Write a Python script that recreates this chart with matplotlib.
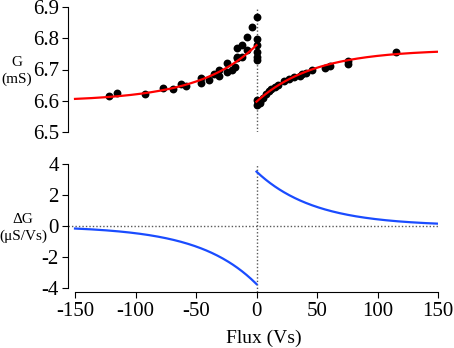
import numpy as np
import matplotlib
matplotlib.use("Agg")
import matplotlib.pyplot as plt

plt.rcParams['font.family'] = ['Liberation Serif', 'DejaVu Serif']
plt.rcParams['axes.unicode_minus'] = False

# measured conductance, negative flux side
flux_neg = [-122, -115, -92, -77, -69, -62, -58, -46, -46, -39, -35, -31, -31, -24, -24,
            -20, -18, -16, -16, -16, -12, -12, -8, -8, -4, 0, 0, 0, 0, 0, 0]
g_neg = [6.615, 6.626, 6.623, 6.640, 6.637, 6.654, 6.648, 6.673, 6.656, 6.666, 6.686,
         6.698, 6.680, 6.720, 6.693, 6.700, 6.709, 6.737, 6.741, 6.769, 6.741, 6.778,
         6.762, 6.805, 6.837, 6.869, 6.798, 6.778, 6.757, 6.741, 6.730]

# measured conductance, positive flux side
flux_pos = [0, 0, 1, 2.5, 3, 5, 8, 10, 12, 15, 18, 23, 27, 31, 36, 38, 41, 46, 57, 61, 76, 76, 115]
g_pos = [6.602, 6.586, 6.594, 6.593, 6.600, 6.609, 6.622, 6.630, 6.638, 6.645, 6.650,
         6.663, 6.670, 6.676, 6.679, 6.686, 6.690, 6.698, 6.705, 6.711, 6.727, 6.718, 6.756]

# exponential fits: G = g_inf + amp * exp(-|flux| / tau)  (mS, Vs)
fit_neg = dict(g_inf=6.598, amp=0.180, tau=48.0)
fit_pos = dict(g_inf=6.764, amp=-0.167, tau=47.6)

x_neg = np.linspace(-150, 0, 200)
x_pos = np.linspace(0, 150, 200)
fit_g_neg = fit_neg['g_inf'] + fit_neg['amp'] * np.exp(x_neg / fit_neg['tau'])
fit_g_pos = fit_pos['g_inf'] + fit_pos['amp'] * np.exp(-x_pos / fit_pos['tau'])
# slope dG/d|flux| in uS/Vs
dg_neg = -1000 * fit_neg['amp'] / fit_neg['tau'] * np.exp(x_neg / fit_neg['tau'])
dg_pos = -1000 * fit_pos['amp'] / fit_pos['tau'] * np.exp(-x_pos / fit_pos['tau'])

W, H = 454, 348
fig = plt.figure(figsize=(W / 100, H / 100), dpi=100)
ax1 = fig.add_axes([68 / W, (H - 132) / H, 370 / W, 125 / H])
ax2 = fig.add_axes([68 / W, (H - 292) / H, 370 / W, 128 / H])

xlim = (-155.8, 150)
dot = dict(color='0.35', lw=1.0, ls=(0, (1, 1.5)), zorder=1)

# top panel
ax1.axvline(0, **dot)
ax1.plot(x_neg, fit_g_neg, color='#ff0000', lw=1.6, zorder=3)
ax1.plot(x_pos, fit_g_pos, color='#ff0000', lw=1.6, zorder=3)
ax1.scatter(flux_neg, g_neg, s=32, color='black', zorder=2, linewidths=0)
ax1.scatter(flux_pos, g_pos, s=32, color='black', zorder=2, linewidths=0)
ax1.set_xlim(*xlim)
ax1.set_ylim(6.5, 6.9)
ax1.set_yticks([6.5, 6.6, 6.7, 6.8, 6.9])
ax1.set_yticklabels(['6.5', '6.6', '6.7', '6.8', '6.9'])
ax1.set_xticks([])
for s in ['top', 'right', 'bottom']:
    ax1.spines[s].set_visible(False)

# bottom panel
ax2.axvline(0, ymax=(4 + 4.26) / 8.26, **dot)
ax2.axhline(0, **dot)
ax2.plot(x_neg, dg_neg, color='#1a4cff', lw=1.6, zorder=3)
ax2.plot(x_pos, dg_pos, color='#1a4cff', lw=1.6, zorder=3)
ax2.set_xlim(*xlim)
ax2.set_ylim(-4.26, 4)
ax2.set_yticks([-4, -2, 0, 2, 4])
ax2.set_xticks([-150, -100, -50, 0, 50, 100, 150])
ax2.spines['left'].set_bounds(-4, 4)
ax2.spines['bottom'].set_bounds(-150, 150)
for s in ['top', 'right']:
    ax2.spines[s].set_visible(False)

for ax in (ax1, ax2):
    ax.tick_params(direction='out', length=4.5, width=0.8, labelsize=15, pad=2)
    for s in ax.spines.values():
        s.set_linewidth(0.8)
ax2.tick_params(axis='x', pad=3)

fig.text(264 / W, 1 - 338 / H, 'Flux (Vs)', ha='center', va='center', fontsize=14)
fig.text(17 / W, 1 - 71 / H, 'G\n(mS)', ha='center', va='center', fontsize=11, linespacing=1.4)
fig.text(23 / W, 1 - 228 / H, '\u0394G\n(\u03bcS/Vs)', ha='center', va='center', fontsize=11, linespacing=1.4)

fig.savefig('out.png', dpi=100)
